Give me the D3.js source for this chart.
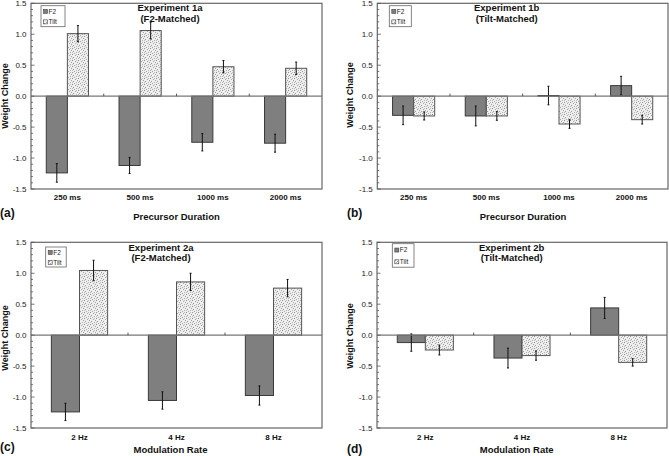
<!DOCTYPE html>
<html><head><meta charset="utf-8">
<script src="https://cdn.jsdelivr.net/npm/d3@7"></script>
<style>
html,body{margin:0;padding:0;background:#fff;}
svg{display:block;font-family:"Liberation Sans",Arial,sans-serif;}
</style></head>
<body>
<svg id="chart" width="669" height="456"></svg>
<script>
// ---- data ----
const durations = ["250 ms", "500 ms", "1000 ms", "2000 ms"];
const rates = ["2 Hz", "4 Hz", "8 Hz"];
const seriesNames = ["F2", "Tilt"];
const yTickValues = [-1.5, -1.0, -0.5, 0.0, 0.5, 1.0, 1.5];

const exp1aF2 = [-1.24, -1.12, -0.745, -0.76];
const exp1aF2Err = [0.15, 0.13, 0.14, 0.145];
const exp1aTilt = [1.01, 1.06, 0.475, 0.45];
const exp1aTiltErr = [0.13, 0.135, 0.10, 0.10];

const exp1bF2 = [-0.31, -0.32, 0.01, 0.17];
const exp1bF2Err = [0.15, 0.16, 0.15, 0.15];
const exp1bTilt = [-0.32, -0.32, -0.45, -0.38];
const exp1bTiltErr = [0.065, 0.07, 0.07, 0.07];

const exp2aF2 = [-1.24, -1.055, -0.975];
const exp2aF2Err = [0.14, 0.14, 0.155];
const exp2aTilt = [1.045, 0.86, 0.76];
const exp2aTiltErr = [0.165, 0.14, 0.14];

const exp2bF2 = [-0.12, -0.37, 0.44];
const exp2bF2Err = [0.14, 0.16, 0.17];
const exp2bTilt = [-0.24, -0.33, -0.44];
const exp2bTiltErr = [0.08, 0.075, 0.06];

// ---- layout ----
const panels = [
  {letter:"(a)", title:["Experiment 1a","(F2-Matched)"], xTitle:"Precursor Duration", cats:durations,
   f2:exp1aF2, f2e:exp1aF2Err, tilt:exp1aTilt, tilte:exp1aTiltErr,
   x0:31, x1:322, y0:3.3, y1:189, leg:[41,5.7,24,21], tt:[170,11], catY:197.5,
   letterPos:[0,217], xtPos:[176.5,220], yl:[8,96]},
  {letter:"(b)", title:["Experiment 1b","(Tilt-Matched)"], xTitle:"Precursor Duration", cats:durations,
   f2:exp1bF2, f2e:exp1bF2Err, tilt:exp1bTilt, tilte:exp1bTiltErr,
   x0:377.3, x1:668, y0:3.3, y1:189, leg:[389.3,5.7,22,21], tt:[506.7,11], catY:197.5,
   letterPos:[347,217], xtPos:[523,220], yl:[353,95]},
  {letter:"(c)", title:["Experiment 2a","(F2-Matched)"], xTitle:"Modulation Rate", cats:rates,
   f2:exp2aF2, f2e:exp2aF2Err, tilt:exp2aTilt, tilte:exp2aTiltErr,
   x0:31, x1:322, y0:242.3, y1:428, leg:[45.7,247,20.5,20], tt:[161,250.5], catY:437.5,
   letterPos:[0,451], xtPos:[170.5,453], yl:[8,338]},
  {letter:"(d)", title:["Experiment 2b","(Tilt-Matched)"], xTitle:"Modulation Rate", cats:rates,
   f2:exp2bF2, f2e:exp2bF2Err, tilt:exp2bTilt, tilte:exp2bTiltErr,
   x0:377, x1:667, y0:242.3, y1:428, leg:[392.3,243.7,21.7,23.5], tt:[511.7,250.5], catY:437.5,
   letterPos:[347,453], xtPos:[516.7,453], yl:[353,336]}
];

const svg = d3.select("#chart");
const defs = svg.append("defs");
const pat = defs.append("pattern").attr("id","stipple").attr("patternUnits","userSpaceOnUse")
  .attr("width",6).attr("height",6);
pat.append("rect").attr("width",6).attr("height",6).attr("fill","#eeeeee");
[[0,0,"#8f8f8f"],[3,1,"#a8a8a8"],[1,3,"#9c9c9c"],[4,4,"#b0b0b0"],[5,2,"#a0a0a0"],[2,5,"#a5a5a5"],[4,0,"#c0c0c0"],[0,4,"#bababa"]]
  .forEach(([x,y,c]) =>
    pat.append("rect").attr("x",x).attr("y",y).attr("width",1).attr("height",1).attr("fill",c));

const fmt = v => (v < 0 ? "-" : "") + Math.abs(v).toFixed(1);
const F2_FILL = "#7f7f7f";

panels.forEach(p => {
  const g = svg.append("g");
  const y = d3.scaleLinear().domain([-1.5, 1.5]).range([p.y1, p.y0]);
  const x = d3.scaleBand().domain(p.cats).range([p.x0, p.x1]).paddingInner(0).paddingOuter(0);
  const bw = x.bandwidth() * 0.29;

  // bars
  p.cats.forEach((c, i) => {
    const cx = x(c) + x.bandwidth() / 2;
    const items = [
      {v:p.f2[i], e:p.f2e[i], x:cx - bw, fill:F2_FILL, stroke:"#3a3a3a"},
      {v:p.tilt[i], e:p.tilte[i], x:cx, fill:"url(#stipple)", stroke:"#555"}
    ];
    items.forEach(it => {
      const yt = Math.min(y(it.v), y(0)), h = Math.abs(y(it.v) - y(0));
      g.append("rect").attr("x", it.x).attr("y", yt).attr("width", bw).attr("height", Math.max(h, 0.01))
        .attr("fill", it.fill).attr("stroke", it.stroke).attr("stroke-width", 1);
    });
    items.forEach(it => {
      const ex = it.x + bw / 2;
      g.append("line").attr("x1", ex).attr("x2", ex).attr("y1", y(it.v + it.e)).attr("y2", y(it.v - it.e))
        .attr("stroke", "#111").attr("stroke-width", 1);
      [it.v + it.e, it.v - it.e].forEach(v =>
        g.append("line").attr("x1", ex - 1).attr("x2", ex + 1).attr("y1", y(v)).attr("y2", y(v))
          .attr("stroke", "#111").attr("stroke-width", 1));
    });
  });

  // zero line
  g.append("line").attr("x1", p.x0).attr("x2", p.x1).attr("y1", y(0)).attr("y2", y(0))
    .attr("stroke", "#777").attr("stroke-width", 1.2);
  // category boundary ticks on zero line
  p.cats.slice(1).forEach(c => {
    g.append("line").attr("x1", x(c)).attr("x2", x(c)).attr("y1", y(0) - 2.5).attr("y2", y(0))
      .attr("stroke", "#555").attr("stroke-width", 1);
  });

  // frame
  g.append("rect").attr("x", p.x0).attr("y", p.y0).attr("width", p.x1 - p.x0).attr("height", p.y1 - p.y0)
    .attr("fill", "none").attr("stroke", "#666").attr("stroke-width", 1.2);

  // y axis ticks (inward), minor every 0.1
  d3.range(-15, 16).forEach(k => {
    const v = k / 10, major = k % 5 === 0;
    g.append("line").attr("x1", p.x0).attr("x2", p.x0 + (major ? 3.5 : 2)).attr("y1", y(v)).attr("y2", y(v))
      .attr("stroke", "#555").attr("stroke-width", 0.8);
  });
  yTickValues.forEach(v => {
    g.append("text").attr("x", p.x0 - 4.5).attr("y", y(v)).attr("dy", "0.35em")
      .attr("text-anchor", "end").attr("font-size", 8).attr("fill", "#222").text(fmt(v));
  });

  // category labels
  p.cats.forEach(c => {
    g.append("text").attr("x", x(c) + x.bandwidth() / 2).attr("y", p.catY).attr("dy", "0.35em")
      .attr("text-anchor", "middle").attr("font-size", 8).attr("font-weight", "bold").attr("fill", "#111").text(c);
  });

  // titles
  p.title.forEach((t, k) => {
    g.append("text").attr("x", p.tt[0]).attr("y", p.tt[1] + k * 10.8)
      .attr("text-anchor", "middle").attr("font-size", 9.5).attr("font-weight", "bold").attr("fill", "#111").text(t);
  });

  // axis titles
  g.append("text").attr("x", p.xtPos[0]).attr("y", p.xtPos[1]).attr("text-anchor", "middle")
    .attr("font-size", 9.5).attr("font-weight", "bold").attr("fill", "#111").text(p.xTitle);
  g.append("text").attr("transform", `translate(${p.yl[0]},${p.yl[1]}) rotate(-90)`)
    .attr("text-anchor", "middle").attr("font-size", 9).attr("font-weight", "bold").attr("fill", "#111")
    .text("Weight Change");
  g.append("text").attr("x", p.letterPos[0]).attr("y", p.letterPos[1])
    .attr("font-size", 12).attr("font-weight", "bold").attr("fill", "#111").text(p.letter);

  // legend
  const [lx, ly, lw, lh] = p.leg;
  g.append("rect").attr("x", lx).attr("y", ly).attr("width", lw).attr("height", lh)
    .attr("fill", "#fff").attr("stroke", "#666").attr("stroke-width", 0.8);
  seriesNames.forEach((s, k) => {
    const yy = ly + lh * (k === 0 ? 0.27 : 0.77);
    g.append("rect").attr("x", lx + 2.5).attr("y", yy - 2).attr("width", 4).attr("height", 4)
      .attr("fill", k === 0 ? F2_FILL : "url(#stipple)").attr("stroke", "#444").attr("stroke-width", 0.6);
    g.append("text").attr("x", lx + 7.5).attr("y", yy).attr("dy", "0.35em")
      .attr("font-size", 6.5).attr("fill", "#222").text(s);
  });
});
</script>
</body></html>
